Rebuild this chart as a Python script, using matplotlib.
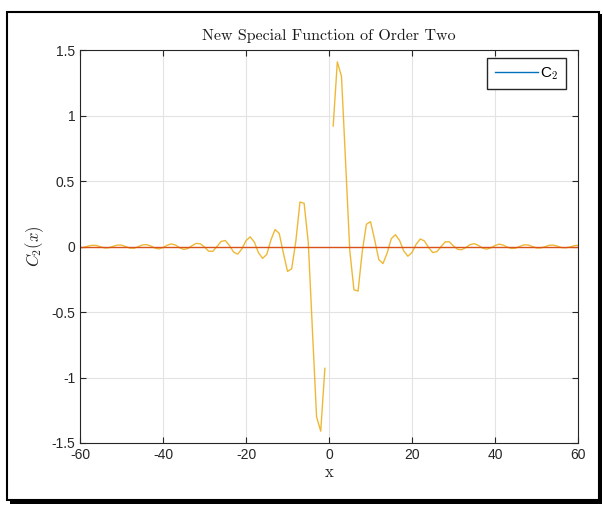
import numpy as np
import matplotlib.pyplot as plt
from matplotlib.lines import Line2D
from matplotlib.patches import Rectangle

plt.rcParams['mathtext.fontset'] = 'cm'
plt.rcParams['axes.unicode_minus'] = False

x_neg = list(range(-60, 0))
c2_neg = [-0.010, -0.006, 0.004, 0.010, 0.008, -0.003, -0.011, -0.009, 0.002, 0.011,
          0.011, 0.000, -0.012, -0.013, -0.002, 0.012, 0.015, 0.005, -0.011, -0.018,
          -0.008, 0.010, 0.020, 0.012, -0.009, -0.022, -0.015, 0.007, 0.024, 0.021,
          -0.004, -0.036, -0.036, 0.000, 0.039, 0.046, 0.008, -0.042, -0.058, -0.018,
          0.045, 0.074, 0.034, -0.047, -0.090, -0.060, 0.050, 0.130, 0.100, -0.050,
          -0.190, -0.170, 0.040, 0.340, 0.330, 0.030, -0.640, -1.300, -1.410, -0.930]
x_pos = list(range(1, 61))
c2_pos = [0.920, 1.410, 1.300, 0.640, -0.030, -0.330, -0.340, -0.040, 0.170, 0.190,
          0.050, -0.100, -0.130, -0.050, 0.060, 0.090, 0.047, -0.034, -0.074, -0.045,
          0.018, 0.058, 0.042, -0.008, -0.046, -0.039, 0.000, 0.036, 0.036, 0.004,
          -0.021, -0.024, -0.007, 0.015, 0.022, 0.009, -0.012, -0.020, -0.010, 0.008,
          0.018, 0.011, -0.005, -0.015, -0.012, 0.002, 0.013, 0.012, 0.000, -0.011,
          -0.011, -0.002, 0.009, 0.011, 0.003, -0.008, -0.010, -0.004, 0.006, 0.010]
zero_x = [-60, 60]
zero_y = [0, 0]

xs = np.array(x_neg + [0] + x_pos, dtype=float)
ys = np.array(c2_neg + [np.nan] + c2_pos)

fig = plt.figure(figsize=(6.03, 5.05), dpi=100)
ax = fig.add_axes([0.1327, 0.1228, 0.8259, 0.778])

ax.plot(xs, ys, color='#EDB120', lw=1.0, alpha=0.9)
ax.plot(zero_x, zero_y, color='#D95319', lw=1.0)

ax.set_xlim(-60, 60)
ax.set_ylim(-1.5, 1.5)
ax.set_xticks(np.arange(-60, 61, 20))
ax.set_yticks([-1.5, -1, -0.5, 0, 0.5, 1, 1.5])
ax.set_yticklabels(['-1.5', '-1', '-0.5', '0', '0.5', '1', '1.5'])
ax.grid(True, color='#e3e3e3', lw=0.8)
ax.set_axisbelow(True)
ax.tick_params(direction='in', top=True, right=True, length=4, colors='#262626',
               labelsize=10)
for lab in ax.get_xticklabels() + ax.get_yticklabels():
    lab.set_fontfamily('Liberation Sans')
for s in ax.spines.values():
    s.set_color('#262626')
    s.set_linewidth(0.8)

ax.set_title('New Special Function of Order Two', fontname='cmr10', fontsize=11.5,
             color='#1a1a1a', pad=7)
ax.set_xlabel('x', fontname='cmr10', fontsize=12, color='#262626', labelpad=2)
ax.set_ylabel('$C_2(x)$', fontsize=12, color='#262626', labelpad=4)

handle = Line2D([], [], color='#0072BD', lw=1.0)
ax.legend([handle], [r'C$_{\mathsf{2}}$'], loc='upper right', bbox_to_anchor=(0.976, 0.981),
          borderaxespad=0, fancybox=False, edgecolor='#262626', framealpha=1,
          handlelength=2.8, borderpad=0.5, handletextpad=0.15,
          prop={'family': ['Liberation Sans', 'DejaVu Sans'], 'size': 11})

# black frame with a drop shadow round the whole picture
fig.patches.append(Rectangle((10 / 603, 1 / 505), 592 / 603, 490 / 505,
                             transform=fig.transFigure, facecolor='black',
                             edgecolor='none', zorder=-2))
fig.patches.append(Rectangle((7 / 603, 5 / 505), 592 / 603, 488 / 505,
                             transform=fig.transFigure, facecolor='white',
                             edgecolor='black', lw=1.5, zorder=-1))

fig.savefig('out.png', dpi=100)
